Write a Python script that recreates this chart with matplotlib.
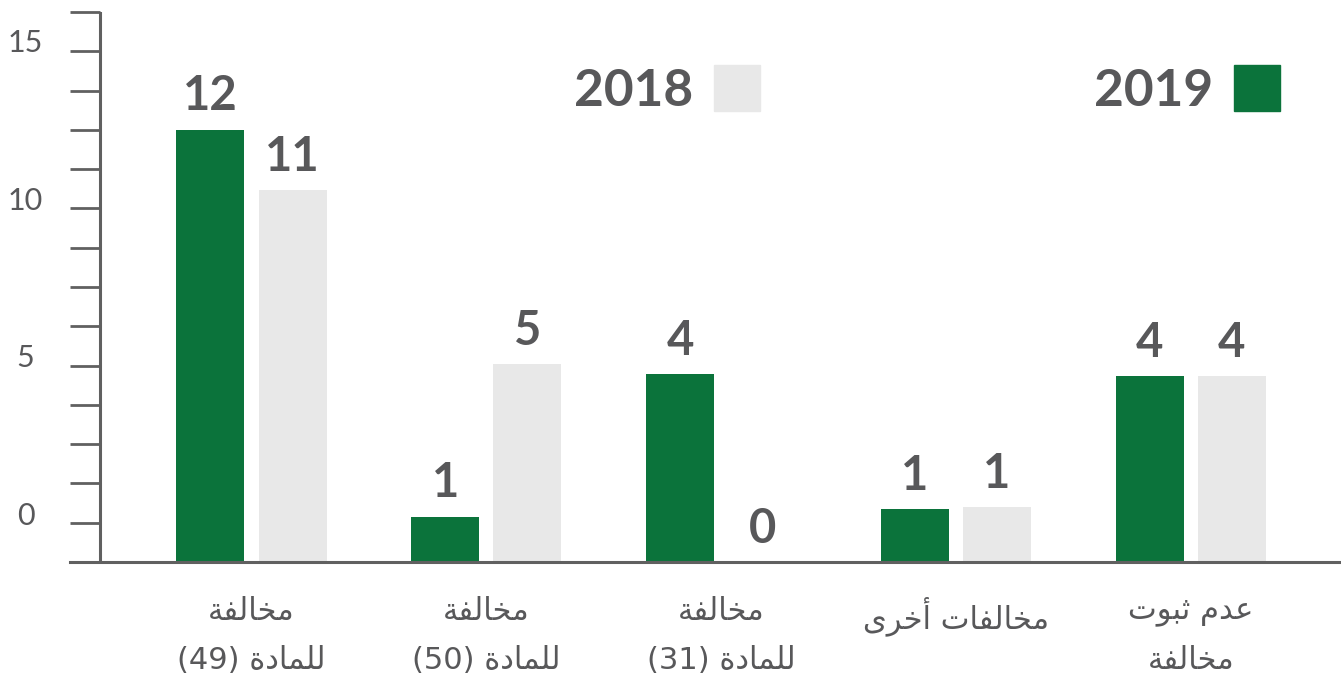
import unicodedata

import matplotlib.pyplot as plt
from matplotlib.lines import Line2D

# Category labels (Arabic, two lines each)
categories = [
    ("مخالفة", "للمادة (49)"),
    ("مخالفة", "للمادة (50)"),
    ("مخالفة", "للمادة (31)"),
    ("مخالفات أخرى", ""),
    ("عدم ثبوت", "مخالفة"),
]
values_2019 = [12, 1, 4, 1, 4]
values_2018 = [11, 5, 0, 1, 4]
# bar heights as drawn in the infographic (axis units, not to scale with labels)
heights_2019 = [11.0, 1.15, 4.78, 1.35, 4.73]
heights_2018 = [9.47, 5.04, 0.0, 1.40, 4.73]
ytick_labels = [0, 5, 10, 15]
series_names = ["2018", "2019"]

GREEN = "#0b733b"
GREY = "#e8e8e8"
TEXT = "#58585a"
ARABIC_FONTS = ["DejaVu Sans", "Noto Sans", "Liberation Sans", "Open Sans"]


def _has_form(ch, form):
    try:
        unicodedata.lookup(unicodedata.name(ch) + form)
        return True
    except (KeyError, ValueError):
        return False


def _is_arabic(ch):
    return "\u0621" <= ch <= "\u064a"


def shape_word(word):
    """Contextual Arabic forms, returned in visual (left-to-right) order."""
    out = []
    for i, c in enumerate(word):
        if not _is_arabic(c):
            out.append(c)
            continue
        prev = word[i - 1] if i > 0 else ""
        nxt = word[i + 1] if i + 1 < len(word) else ""
        join_prev = bool(prev) and _is_arabic(prev) and _has_form(prev, " INITIAL FORM")
        join_next = bool(nxt) and _is_arabic(nxt) and _has_form(c, " INITIAL FORM")
        form = {
            (True, True): " MEDIAL FORM",
            (True, False): " FINAL FORM",
            (False, True): " INITIAL FORM",
            (False, False): " ISOLATED FORM",
        }[(join_prev, join_next)]
        out.append(unicodedata.lookup(unicodedata.name(c) + form))
    return "".join(reversed(out))


def rtl(line):
    words = line.split(" ")
    vis = [shape_word(w) if any(_is_arabic(ch) for ch in w) else w for w in words]
    return " ".join(reversed(vis))


fig = plt.figure(figsize=(13.41, 6.86), dpi=100)
ax = fig.add_axes([70 / 1341, 124 / 686, 1271 / 1341, 550 / 686])

x = list(range(len(categories)))
width = 0.29
offset = 0.175
b19 = ax.bar([i - offset for i in x], heights_2019, width, color=GREEN)
b18 = ax.bar([i + offset for i in x], heights_2018, width, color=GREY)

for bars, vals in ((b19, values_2019), (b18, values_2018)):
    for rect, v in zip(bars, vals):
        ax.annotate(str(v), (rect.get_x() + rect.get_width() / 2, rect.get_height()),
                    xytext=(0, 14), textcoords="offset points", ha="center",
                    va="baseline", fontsize=34, fontweight="bold", color=TEXT,
                    family="Lato")

ax.set_xlim(-0.773, 4.64)
ax.set_ylim(0, 14)

# axis styling
for s in ("top", "right", "left"):
    ax.spines[s].set_visible(False)
ax.spines["bottom"].set_color("#606060")
ax.spines["bottom"].set_linewidth(2.2)
ax.axvline(-0.645, color="#606060", lw=2.2)
ax.set_yticks(range(0, 15))
ax.tick_params(axis="y", direction="in", length=21.6, width=2, color="#606060",
               labelleft=False)
ax.tick_params(axis="x", length=0, pad=25)

ax.set_xticks(x)
ax.set_xticklabels([rtl(a) + ("\n" + rtl(b) if b else "") for a, b in categories],
                   fontsize=22, color=TEXT, family=ARABIC_FONTS, linespacing=1.9,
                   va="top")

# y labels on their own (infographic) scale
sec = ax.secondary_yaxis("left", functions=(lambda y: (y - 1.247) / 0.801,
                                            lambda v: 1.247 + 0.801 * v))
sec.set_yticks(ytick_labels)
sec.spines["left"].set_visible(False)
sec.tick_params(length=0, pad=32, labelsize=22, labelcolor=TEXT)
for t in sec.get_yticklabels():
    t.set_horizontalalignment("center")
    t.set_family("Lato")

handles = [
    Line2D([], [], marker="s", ls="", markersize=32.5, color=GREY),
    Line2D([], [], marker="s", ls="", markersize=32.5, color=GREEN),
]
leg = fig.legend(handles, series_names, loc="center", bbox_to_anchor=(927 / 1341, 1 - 91 / 686),
                 ncol=2, frameon=False, markerfirst=False, handlelength=0.9,
                 handletextpad=0.4, columnspacing=6.5,
                 prop={"family": "Lato", "weight": "bold", "size": 37})
for t in leg.get_texts():
    t.set_color(TEXT)

fig.savefig("out.png", dpi=100)
